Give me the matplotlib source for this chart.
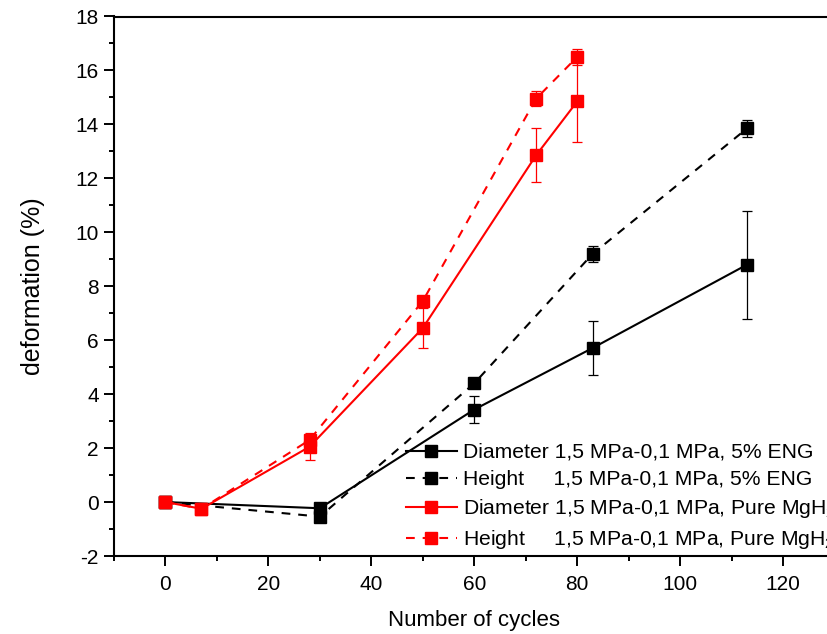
import numpy as np
import matplotlib
matplotlib.use("Agg")
import matplotlib.pyplot as plt
from matplotlib.ticker import MultipleLocator

plt.rcParams["font.family"] = ["Liberation Sans", "DejaVu Sans"]
plt.rcParams["mathtext.fontset"] = "custom"
plt.rcParams["mathtext.rm"] = "Liberation Sans"
plt.rcParams["axes.unicode_minus"] = False

# data
x_eng = [0, 30, 60, 83, 113]
dia_eng = [0, -0.23, 3.43, 5.71, 8.8]
dia_eng_err = [0, 0, 0.5, 1.0, 2.0]
hei_eng = [0, -0.54, 4.4, 9.2, 13.85]
hei_eng_err = [0, 0, 0.1, 0.3, 0.3]

x_mgh = [0, 7, 28, 50, 72, 80]
dia_mgh = [0, -0.25, 2.05, 6.45, 12.85, 14.85]
dia_mgh_err = [0, 0, 0.5, 0.75, 1.0, 1.5]
hei_mgh = [0, -0.25, 2.3, 7.45, 14.95, 16.5]
hei_mgh_err = [0, 0, 0.2, 0.1, 0.28, 0.3]

labels = [
    "Diameter 1,5 MPa-0,1 MPa, 5% ENG",
    "Height     1,5 MPa-0,1 MPa, 5% ENG",
    "Diameter 1,5 MPa-0,1 MPa, Pure MgH$_2$",
    "Height     1,5 MPa-0,1 MPa, Pure MgH$_2$",
]

W, H = 828, 634
fig = plt.figure(figsize=(W / 100, H / 100), dpi=100)
ax = fig.add_axes([114 / W, 1 - 556 / H, (834.5 - 114) / W, (556 - 16.5) / H])

dash = (0, (4.2, 3.8))
series = [
    (x_eng, dia_eng, dia_eng_err, "black", "-"),
    (x_eng, hei_eng, hei_eng_err, "black", dash),
    (x_mgh, dia_mgh, dia_mgh_err, "red", "-"),
    (x_mgh, hei_mgh, hei_mgh_err, "red", dash),
]

handles = []
for xs, ys, err, col, ls in series:
    c = ax.errorbar(xs, ys, yerr=err, color=col, ls=ls, lw=1.5,
                    marker="s", ms=8, mec=col, mfc=col,
                    elinewidth=0.9, capsize=3.5, capthick=0.9)
    handles.append(c[0])

ax.set_xlim(-10, 130)
ax.set_ylim(-2, 18)
ax.xaxis.set_major_locator(MultipleLocator(20))
ax.xaxis.set_minor_locator(MultipleLocator(10))
ax.yaxis.set_major_locator(MultipleLocator(2))
ax.yaxis.set_minor_locator(MultipleLocator(1))
ax.tick_params(which="both", direction="out", width=1.4, labelsize=15,
               top=False, right=False)
ax.tick_params(which="major", length=7.5)
ax.tick_params(which="minor", length=3.8)
ax.tick_params(axis="x", which="major", pad=6)
for s in ax.spines.values():
    s.set_linewidth(1.5)

ax.set_xlabel("Number of cycles", fontsize=16, labelpad=12)
ax.set_ylabel("deformation (%)", fontsize=18, labelpad=22)

ax.legend(handles, labels, loc="upper left", frameon=False, fontsize=15.2,
          bbox_to_anchor=(406 / W, 1 - 443 / H), bbox_transform=fig.transFigure,
          borderpad=0, borderaxespad=0, handlelength=2.4, handletextpad=0.3,
          labelspacing=0.38, numpoints=1)

fig.savefig("out.png", dpi=100)
